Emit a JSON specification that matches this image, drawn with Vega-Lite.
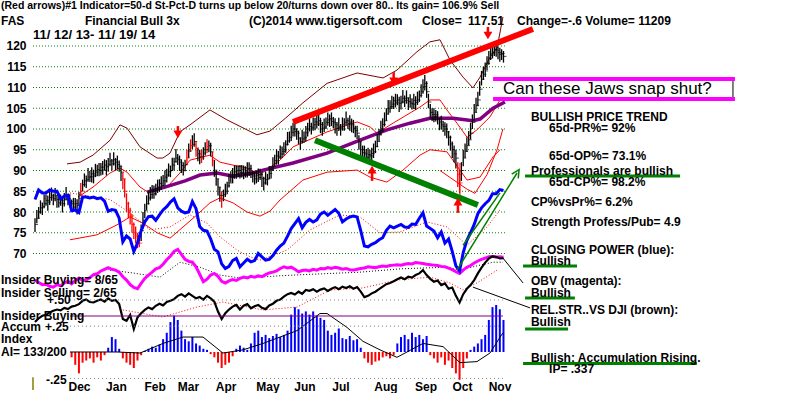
{
"$schema":"https://vega.github.io/schema/vega-lite/v6.json",
"width":767,"height":393,
"autosize":{"type":"none"},
"padding":{"left":33,"top":0,"right":0,"bottom":0},
"background":"white",
"config":{"view":{"stroke":null},"font":"Liberation Sans"},
"resolve":{"scale":{"y":"independent","color":"independent","strokeWidth":"independent","strokeDash":"independent","shape":"independent"}},
"datasets":{
"grid":[{"v":70},{"v":75},{"v":80},{"v":85},{"v":90},{"v":95},{"v":100},{"v":105},{"v":110},{"v":115},{"v":120}],
"px":[
{"i":0,"c":77,"h":78.5,"l":75.2},{"i":1,"c":78.5,"h":80.5,"l":77.3},{"i":2,"c":80,"h":81.2,"l":78.4},{"i":3,"c":81,"h":82.8,"l":79.6},{"i":4,"c":81.3,"h":82.3,"l":79.3},{"i":5,"c":82,"h":84.2,"l":80.9},{"i":6,"c":82.8,"h":84.2,"l":81.5},{"i":7,"c":82.4,"h":84,"l":80.3},{"i":8,"c":83.5,"h":85,"l":81.7},{"i":9,"c":83.9,"h":85.9,"l":82.7},
{"i":10,"c":83.2,"h":84.4,"l":81.6},{"i":11,"c":84,"h":85.8,"l":82.6},{"i":12,"c":83,"h":84,"l":81},{"i":13,"c":82.2,"h":84.4,"l":81.1},{"i":14,"c":82.8,"h":84.2,"l":81.5},{"i":15,"c":82,"h":83.6,"l":79.9},{"i":16,"c":83.1,"h":84.6,"l":81.3},{"i":17,"c":84,"h":86,"l":82.8},{"i":18,"c":83.2,"h":84.4,"l":81.6},{"i":19,"c":82.5,"h":84.3,"l":81.1},
{"i":20,"c":82,"h":83,"l":80},{"i":21,"c":81.2,"h":83.4,"l":80.1},{"i":22,"c":82,"h":83.4,"l":80.7},{"i":23,"c":81.5,"h":83.1,"l":79.4},{"i":24,"c":83.3,"h":84.8,"l":81.5},{"i":25,"c":85,"h":87,"l":83.8},{"i":26,"c":86.6,"h":87.8,"l":85},{"i":27,"c":87.5,"h":89.3,"l":86.1},{"i":28,"c":87.8,"h":88.8,"l":85.8},{"i":29,"c":88.4,"h":90.6,"l":87.3},
{"i":30,"c":88.5,"h":89.9,"l":87.2},{"i":31,"c":89.2,"h":90.8,"l":87.1},{"i":32,"c":88.7,"h":90.2,"l":86.9},{"i":33,"c":89.6,"h":91.6,"l":88.4},{"i":34,"c":90.2,"h":91.4,"l":88.6},{"i":35,"c":90,"h":91.8,"l":88.6},{"i":36,"c":90.8,"h":91.8,"l":88.8},{"i":37,"c":90.1,"h":92.3,"l":89},{"i":38,"c":91.3,"h":92.7,"l":90},{"i":39,"c":90.9,"h":92.5,"l":88.8},
{"i":40,"c":91.5,"h":93,"l":89.7},{"i":41,"c":92.3,"h":94.3,"l":91.1},{"i":42,"c":91.6,"h":92.8,"l":90},{"i":43,"c":92.6,"h":94.4,"l":91.2},{"i":44,"c":92,"h":93,"l":90},{"i":45,"c":91.4,"h":93.6,"l":90.3},{"i":46,"c":91,"h":92.4,"l":89.7},{"i":47,"c":89.6,"h":91.2,"l":87.5},{"i":48,"c":88,"h":89.5,"l":85.5},{"i":49,"c":85,"h":88,"l":83.5},
{"i":50,"c":82,"h":84.5,"l":80},{"i":51,"c":80.4,"h":82.5,"l":78.5},{"i":52,"c":79,"h":81,"l":77},{"i":53,"c":77,"h":79.5,"l":75},{"i":54,"c":75,"h":77.5,"l":73.5},{"i":55,"c":74.2,"h":76.5,"l":72.5},{"i":56,"c":73,"h":75,"l":71.3},{"i":57,"c":72.5,"h":74.5,"l":71.5},{"i":58,"c":75.5,"h":77,"l":73},{"i":59,"c":78,"h":80,"l":76},
{"i":60,"c":80.3,"h":82,"l":78.5},{"i":61,"c":82,"h":84,"l":80.5},{"i":62,"c":83.4,"h":85,"l":81.8},{"i":63,"c":84.2,"h":86,"l":82.8},{"i":64,"c":85,"h":86.5,"l":83.2},{"i":65,"c":84.4,"h":86.4,"l":83.2},{"i":66,"c":85.6,"h":86.8,"l":84},{"i":67,"c":86,"h":87.8,"l":84.6},{"i":68,"c":86.9,"h":87.9,"l":84.9},{"i":69,"c":86.4,"h":88.6,"l":85.3},
{"i":70,"c":87.5,"h":88.9,"l":86.2},{"i":71,"c":88.4,"h":90,"l":86.3},{"i":72,"c":88.9,"h":90.4,"l":87.1},{"i":73,"c":89.7,"h":91.7,"l":88.5},{"i":74,"c":90,"h":91.2,"l":88.4},{"i":75,"c":91.3,"h":93.1,"l":89.9},{"i":76,"c":92.1,"h":93.1,"l":90.1},{"i":77,"c":93,"h":95.2,"l":91.9},{"i":78,"c":92.6,"h":94,"l":91.3},{"i":79,"c":92,"h":93.6,"l":89.9},
{"i":80,"c":91.2,"h":92.7,"l":89.4},{"i":81,"c":90,"h":92,"l":88.8},{"i":82,"c":91.4,"h":92.6,"l":89.8},{"i":83,"c":93,"h":95,"l":91.5},{"i":84,"c":94.7,"h":96.5,"l":93},{"i":85,"c":96,"h":97.5,"l":94.5},{"i":86,"c":96.3,"h":98.5,"l":95.2},{"i":87,"c":97,"h":99,"l":95.7},{"i":88,"c":95.4,"h":97,"l":93.3},{"i":89,"c":94,"h":95.5,"l":92.2},
{"i":90,"c":93.3,"h":95,"l":91.5},{"i":91,"c":93,"h":95,"l":91.8},{"i":92,"c":94.2,"h":95.6,"l":92.6},{"i":93,"c":95,"h":96.8,"l":93.6},{"i":94,"c":95.8,"h":97.5,"l":94.2},{"i":95,"c":96,"h":97.2,"l":94.4},{"i":96,"c":94.5,"h":96.7,"l":93.4},{"i":97,"c":92.5,"h":94.5,"l":91},{"i":98,"c":90.1,"h":92.5,"l":88.5},{"i":99,"c":88,"h":90,"l":86.3},
{"i":100,"c":86,"h":88,"l":84},{"i":101,"c":84,"h":86,"l":82.5},{"i":102,"c":83,"h":85,"l":81},{"i":103,"c":84.2,"h":85.4,"l":82.6},{"i":104,"c":85,"h":86.8,"l":83.6},{"i":105,"c":86.3,"h":87.3,"l":84.3},{"i":106,"c":87,"h":89.2,"l":85.9},{"i":107,"c":88.4,"h":89.8,"l":87.1},{"i":108,"c":89,"h":90.6,"l":86.9},{"i":109,"c":89.7,"h":91.2,"l":88},
{"i":110,"c":89.2,"h":91.2,"l":88},{"i":111,"c":90,"h":91.2,"l":88.4},{"i":112,"c":89.5,"h":91.3,"l":88.1},{"i":113,"c":90.3,"h":91.3,"l":88.3},{"i":114,"c":89,"h":91.2,"l":87.9},{"i":115,"c":89.6,"h":91,"l":88.3},{"i":116,"c":90.4,"h":92,"l":88.3},{"i":117,"c":90.5,"h":92,"l":88.7},{"i":118,"c":89.4,"h":91.4,"l":88.2},{"i":119,"c":88.7,"h":89.9,"l":87.1},
{"i":120,"c":88,"h":89.8,"l":86.6},{"i":121,"c":88.9,"h":89.9,"l":86.9},{"i":122,"c":88.3,"h":90.5,"l":87.2},{"i":123,"c":89,"h":90.4,"l":87.7},{"i":124,"c":88.1,"h":89.7,"l":86},{"i":125,"c":87,"h":88.5,"l":85.2},{"i":126,"c":87.8,"h":89.8,"l":86.6},{"i":127,"c":88,"h":89.2,"l":86.4},{"i":128,"c":89.3,"h":91.1,"l":87.9},{"i":129,"c":90.1,"h":91.1,"l":88.1},
{"i":130,"c":91,"h":93.2,"l":89.9},{"i":131,"c":92.4,"h":93.8,"l":91.1},{"i":132,"c":93.5,"h":95.1,"l":91.4},{"i":133,"c":93.2,"h":94.7,"l":91.4},{"i":134,"c":94,"h":96,"l":92.8},{"i":135,"c":94.6,"h":95.8,"l":93},{"i":136,"c":95,"h":96.8,"l":93.6},{"i":137,"c":96.3,"h":97.3,"l":94.3},{"i":138,"c":97.1,"h":99.3,"l":96},{"i":139,"c":98,"h":99.4,"l":96.7},
{"i":140,"c":99.2,"h":100.8,"l":97.1},{"i":141,"c":100,"h":101.5,"l":98.2},{"i":142,"c":99.4,"h":101.4,"l":98.2},{"i":143,"c":99,"h":100.2,"l":97.4},{"i":144,"c":97.8,"h":99.6,"l":96.4},{"i":145,"c":97,"h":98,"l":95},{"i":146,"c":97.6,"h":99.8,"l":96.5},{"i":147,"c":98,"h":99.4,"l":96.7},{"i":148,"c":99.1,"h":100.7,"l":97},{"i":149,"c":100,"h":101.5,"l":98.2},
{"i":150,"c":100.6,"h":102.6,"l":99.4},{"i":151,"c":100.3,"h":101.5,"l":98.7},{"i":152,"c":101,"h":102.8,"l":99.6},{"i":153,"c":101.7,"h":102.7,"l":99.7},{"i":154,"c":101.2,"h":103.4,"l":100.1},{"i":155,"c":102,"h":103.4,"l":100.7},{"i":156,"c":101.1,"h":102.7,"l":99},{"i":157,"c":100.2,"h":101.7,"l":98.4},{"i":158,"c":100.5,"h":102.5,"l":99.3},{"i":159,"c":101.6,"h":102.8,"l":100},
{"i":160,"c":102.2,"h":104,"l":100.8},{"i":161,"c":102.5,"h":103.5,"l":100.5},{"i":162,"c":101.8,"h":104,"l":100.7},{"i":163,"c":101.5,"h":102.9,"l":100.2},{"i":164,"c":101,"h":102.6,"l":98.9},{"i":165,"c":100.2,"h":101.7,"l":98.4},{"i":166,"c":100.7,"h":102.7,"l":99.5},{"i":167,"c":100,"h":101.2,"l":98.4},{"i":168,"c":101,"h":102.8,"l":99.6},{"i":169,"c":101.6,"h":102.6,"l":99.6},
{"i":170,"c":102,"h":104.2,"l":100.9},{"i":171,"c":101.3,"h":102.7,"l":100},{"i":172,"c":101.7,"h":103.3,"l":99.6},{"i":173,"c":101,"h":102.5,"l":99.2},{"i":174,"c":100.2,"h":102.2,"l":99},{"i":175,"c":99.6,"h":100.8,"l":98},{"i":176,"c":99,"h":100.8,"l":97.6},{"i":177,"c":97,"h":98.5,"l":95},{"i":178,"c":95,"h":97,"l":93.5},{"i":179,"c":94.3,"h":96,"l":92.5},
{"i":180,"c":94,"h":96,"l":92.6},{"i":181,"c":93.2,"h":95.2,"l":91.8},{"i":182,"c":93.8,"h":95.5,"l":92},{"i":183,"c":93.5,"h":95,"l":92},{"i":184,"c":94.1,"h":95.5,"l":92.5},{"i":185,"c":94.5,"h":96.5,"l":93},{"i":186,"c":95.8,"h":97.2,"l":94.2},{"i":187,"c":97,"h":98.8,"l":95.6},{"i":188,"c":98.6,"h":100,"l":97},{"i":189,"c":100,"h":102,"l":98.5},
{"i":190,"c":101.1,"h":102.6,"l":99.3},{"i":191,"c":102,"h":104,"l":100.6},{"i":192,"c":103.6,"h":105,"l":102},{"i":193,"c":105,"h":107,"l":103.5},{"i":194,"c":105.4,"h":106.9,"l":103.9},{"i":195,"c":106,"h":108,"l":104.8},{"i":196,"c":106.8,"h":107.8,"l":104.8},{"i":197,"c":106.3,"h":108.5,"l":105.2},{"i":198,"c":107,"h":108.4,"l":105.7},{"i":199,"c":106.2,"h":107.8,"l":104.1},
{"i":200,"c":106.5,"h":108,"l":104.7},{"i":201,"c":107.4,"h":109.4,"l":106.2},{"i":202,"c":106.9,"h":108.1,"l":105.3},{"i":203,"c":107.5,"h":109.3,"l":106.1},{"i":204,"c":106.6,"h":107.6,"l":104.6},{"i":205,"c":106.2,"h":108.4,"l":105.1},{"i":206,"c":106,"h":107.4,"l":104.7},{"i":207,"c":106.9,"h":108.5,"l":104.8},{"i":208,"c":106.4,"h":107.9,"l":104.6},{"i":209,"c":107,"h":109,"l":105.8},
{"i":210,"c":108.1,"h":109.3,"l":106.5},{"i":211,"c":109,"h":110.8,"l":107.6},{"i":212,"c":110.2,"h":112,"l":108.5},{"i":213,"c":111,"h":113,"l":109.3},{"i":214,"c":109,"h":111.5,"l":107.5},{"i":215,"c":106.5,"h":108.5,"l":105},{"i":216,"c":104,"h":106,"l":102.5},{"i":217,"c":103.5,"h":105,"l":101.9},{"i":218,"c":103,"h":105,"l":101.6},{"i":219,"c":103.4,"h":104.6,"l":101.8},
{"i":220,"c":102.5,"h":104.3,"l":101.1},{"i":221,"c":101.7,"h":102.7,"l":99.7},{"i":222,"c":101,"h":103.2,"l":99.9},{"i":223,"c":100.6,"h":102,"l":99.3},{"i":224,"c":100,"h":101.6,"l":98.4},{"i":225,"c":99.3,"h":101.3,"l":97.8},{"i":226,"c":98,"h":99.5,"l":96},{"i":227,"c":96.4,"h":98.4,"l":94.8},{"i":228,"c":95,"h":97,"l":93},{"i":229,"c":94,"h":96,"l":92},
{"i":230,"c":93,"h":95,"l":90.5},{"i":231,"c":89,"h":92,"l":86},{"i":232,"c":87,"h":90,"l":84.5},{"i":233,"c":90,"h":92,"l":87.5},{"i":234,"c":93,"h":95,"l":91},{"i":235,"c":94.6,"h":96.5,"l":93},{"i":236,"c":96,"h":98,"l":94.5},{"i":237,"c":97.4,"h":99.5,"l":96},{"i":238,"c":99,"h":101.5,"l":97.5},{"i":239,"c":101.6,"h":103.5,"l":100},
{"i":240,"c":104,"h":106,"l":102},{"i":241,"c":105.7,"h":107.5,"l":104},{"i":242,"c":107,"h":109,"l":105.5},{"i":243,"c":109.6,"h":111.5,"l":108},{"i":244,"c":112,"h":114,"l":110.5},{"i":245,"c":113.2,"h":115,"l":111.8},{"i":246,"c":114,"h":116,"l":112.5},{"i":247,"c":115.8,"h":117.5,"l":114.2},{"i":248,"c":117,"h":118.8,"l":115.5},{"i":249,"c":118.1,"h":119.8,"l":116.6},
{"i":250,"c":118.5,"h":120,"l":117},{"i":251,"c":119.2,"h":120.4,"l":117.6},{"i":252,"c":119,"h":120.6,"l":117.4},{"i":253,"c":118.4,"h":119.8,"l":116.8},{"i":254,"c":118,"h":119.6,"l":116.2},{"i":255,"c":118.2,"h":119.2,"l":116.6},{"i":256,"c":117.5,"h":118.8,"l":116}
],
"ind":[
{"i":0,"cp":83,"ob":63.6,"rs":53.5},{"i":2,"cp":85.3,"ob":63,"rs":54.4},{"i":4,"cp":84.6,"ob":62.5,"rs":55},{"i":6,"cp":84.6,"ob":62.6,"rs":55.2},{"i":8,"cp":85.3,"ob":62.1,"rs":55.8},{"i":10,"cp":85,"ob":61.9,"rs":56.2},{"i":12,"cp":85,"ob":62.5,"rs":56.5},{"i":14,"cp":83.2,"ob":62.2,"rs":56.3},{"i":16,"cp":83.8,"ob":62.9,"rs":56.9},{"i":18,"cp":84,"ob":63.3,"rs":56.6},
{"i":20,"cp":80.3,"ob":62.7,"rs":57.2,"ai":-0.05},{"i":22,"cp":80.5,"ob":63.5,"rs":57.4,"ai":-0.12},{"i":24,"cp":79.9,"ob":64.1,"rs":57.8,"ai":-0.2},{"i":26,"cp":83.6,"ob":63.5,"rs":58.6,"ai":-0.1},{"i":28,"cp":83.6,"ob":63.6,"rs":58.9,"ai":-0.08},{"i":30,"cp":83.4,"ob":64.2,"rs":58.3,"ai":-0.06},{"i":32,"cp":83.6,"ob":64.9,"rs":58.2,"ai":-0.1},{"i":34,"cp":83.2,"ob":65.1,"rs":58.6,"ai":-0.05},{"i":36,"cp":83.4,"ob":65.8,"rs":58.9,"ai":-0.08},{"i":38,"cp":82.6,"ob":66.2,"rs":58.4,"ai":-0.03},
{"i":40,"cp":80.2,"ob":66.6,"rs":59.2,"ai":0.04},{"i":42,"cp":80.6,"ob":66.2,"rs":58.6,"ai":0.14},{"i":44,"cp":80.4,"ob":66,"rs":58.8,"ai":0.12},{"i":46,"cp":78.5,"ob":65.5,"rs":57.8,"ai":0.03},{"i":48,"cp":72.8,"ob":64.4,"rs":54.2,"ai":-0.06},{"i":50,"cp":74.2,"ob":63.6,"rs":53.8,"ai":-0.1},{"i":52,"cp":73.5,"ob":62.5,"rs":55.2,"ai":-0.12},{"i":54,"cp":70.5,"ob":61.8,"rs":51.8,"ai":-0.15},{"i":56,"cp":72.5,"ob":61.5,"rs":54.6,"ai":-0.08},{"i":58,"cp":75.5,"ob":62.8,"rs":55.6,"ai":-0.03},
{"i":60,"cp":77.6,"ob":64,"rs":56.4,"ai":0.01},{"i":62,"cp":78.9,"ob":64.8,"rs":57,"ai":0.03},{"i":64,"cp":79,"ob":65.5,"rs":56.6,"ai":0.05},{"i":66,"cp":78,"ob":66.3,"rs":57.4,"ai":0.04},{"i":68,"cp":79.3,"ob":66.6,"rs":57.9,"ai":0.07},{"i":70,"cp":80.5,"ob":67.4,"rs":57.5,"ai":0.12},{"i":72,"cp":81.3,"ob":68.5,"rs":58.3,"ai":0.18},{"i":74,"cp":82.4,"ob":69.4,"rs":58.6,"ai":0.28},{"i":76,"cp":83.2,"ob":70.5,"rs":59,"ai":0.34},{"i":78,"cp":81,"ob":71,"rs":59.8,"ai":0.3},
{"i":80,"cp":80.2,"ob":69.8,"rs":60.2,"ai":0.2},{"i":82,"cp":79.8,"ob":68.6,"rs":59.6,"ai":0.12},{"i":84,"cp":80,"ob":68.1,"rs":60.4,"ai":0.1},{"i":86,"cp":82.5,"ob":67.9,"rs":59.8,"ai":0.14},{"i":88,"cp":80.8,"ob":66.8,"rs":59.2,"ai":0.08},{"i":90,"cp":76.5,"ob":65,"rs":59.5,"ai":0.06},{"i":92,"cp":75.6,"ob":63.2,"rs":58.9,"ai":0.03},{"i":94,"cp":75.4,"ob":63.8,"rs":59.8,"ai":0.02},{"i":96,"cp":73.5,"ob":64.8,"rs":59.2,"ai":-0.02},{"i":98,"cp":71,"ob":65.2,"rs":58.4,"ai":-0.05},
{"i":100,"cp":70.4,"ob":64.5,"rs":56,"ai":-0.1},{"i":102,"cp":67.5,"ob":63.3,"rs":54.2,"ai":-0.15},{"i":104,"cp":66.4,"ob":62.9,"rs":55.6,"ai":-0.12},{"i":106,"cp":66.9,"ob":63.4,"rs":56.5,"ai":-0.1},{"i":108,"cp":68.3,"ob":63.7,"rs":57.2,"ai":-0.04},{"i":110,"cp":68.8,"ob":63.5,"rs":57.6,"ai":0.03},{"i":112,"cp":66.8,"ob":64,"rs":56.5,"ai":0.06},{"i":114,"cp":67.7,"ob":64.3,"rs":57.4,"ai":0.04},{"i":116,"cp":68.6,"ob":64.1,"rs":57.8,"ai":0.02},{"i":118,"cp":68,"ob":64.5,"rs":56.8,"ai":0.08},
{"i":120,"cp":68.3,"ob":64.3,"rs":57.3,"ai":0.18},{"i":122,"cp":70,"ob":64.6,"rs":57.6,"ai":0.2},{"i":124,"cp":69.2,"ob":64.4,"rs":56.9,"ai":0.14},{"i":126,"cp":68.4,"ob":64.9,"rs":56.6,"ai":0.16},{"i":128,"cp":68.6,"ob":65.3,"rs":57.5,"ai":0.13},{"i":130,"cp":69.5,"ob":65.5,"rs":57.9,"ai":0.15},{"i":132,"cp":70.8,"ob":65.8,"rs":58.6,"ai":0.17},{"i":134,"cp":71.8,"ob":66.4,"rs":58.9,"ai":0.14},{"i":136,"cp":72.5,"ob":66.8,"rs":59.6,"ai":0.16},{"i":138,"cp":74.2,"ob":66.5,"rs":60.2,"ai":0.2},
{"i":140,"cp":76,"ob":66.7,"rs":60.5,"ai":0.35},{"i":142,"cp":77.2,"ob":66.2,"rs":60.1,"ai":0.42},{"i":144,"cp":78.4,"ob":65.6,"rs":60.8,"ai":0.4},{"i":146,"cp":76.2,"ob":65.9,"rs":60.3,"ai":0.36},{"i":148,"cp":77.5,"ob":66,"rs":61.2,"ai":0.38},{"i":150,"cp":78.2,"ob":65.8,"rs":61,"ai":0.35},{"i":152,"cp":77.6,"ob":66.2,"rs":61.4,"ai":0.38},{"i":154,"cp":78.1,"ob":66,"rs":60.8,"ai":0.34},{"i":156,"cp":79.5,"ob":66.4,"rs":61.3,"ai":0.32},{"i":158,"cp":80,"ob":66.3,"rs":61.6,"ai":0.3},
{"i":160,"cp":79.2,"ob":66.6,"rs":61,"ai":0.2},{"i":162,"cp":79.9,"ob":66.4,"rs":61.5,"ai":0.16},{"i":164,"cp":80.6,"ob":66.7,"rs":61.9,"ai":0.18},{"i":166,"cp":79.7,"ob":66.5,"rs":61.4,"ai":0.22},{"i":168,"cp":77.6,"ob":66.2,"rs":62,"ai":0.13},{"i":170,"cp":78.3,"ob":66.4,"rs":61.7,"ai":0.12},{"i":172,"cp":78.8,"ob":66.1,"rs":62.1,"ai":0.15},{"i":174,"cp":79,"ob":66,"rs":61.5,"ai":0.11},{"i":176,"cp":78.8,"ob":66.2,"rs":61.9,"ai":0.12},{"i":178,"cp":75.5,"ob":66.4,"rs":60.8,"ai":0.04},
{"i":180,"cp":71.8,"ob":66.5,"rs":59.5,"ai":-0.06},{"i":182,"cp":71.6,"ob":66.8,"rs":59.8,"ai":-0.1},{"i":184,"cp":72.2,"ob":66.7,"rs":60.4,"ai":-0.12},{"i":186,"cp":72.6,"ob":66.6,"rs":60.8,"ai":-0.09},{"i":188,"cp":73.3,"ob":66.8,"rs":61.4,"ai":-0.08},{"i":190,"cp":73.8,"ob":67,"rs":62,"ai":-0.05},{"i":192,"cp":75.6,"ob":66.9,"rs":62.6,"ai":-0.04},{"i":194,"cp":76.6,"ob":67.1,"rs":62.9,"ai":-0.06},{"i":196,"cp":76.2,"ob":67.2,"rs":63.3,"ai":-0.03},{"i":198,"cp":76.6,"ob":67.3,"rs":63.8,"ai":0.08},
{"i":200,"cp":77,"ob":67.2,"rs":64.2,"ai":0.14},{"i":202,"cp":76.4,"ob":67.4,"rs":63.8,"ai":0.16},{"i":204,"cp":76.3,"ob":67.6,"rs":64.4,"ai":0.12},{"i":206,"cp":77.1,"ob":67.5,"rs":64.2,"ai":0.18},{"i":208,"cp":77,"ob":67.8,"rs":64.8,"ai":0.14},{"i":210,"cp":78.5,"ob":67.7,"rs":65.2,"ai":0.16},{"i":212,"cp":79.8,"ob":67.6,"rs":66,"ai":0.12},{"i":214,"cp":76.6,"ob":67.4,"rs":64.8,"ai":0.15},{"i":216,"cp":76,"ob":67.3,"rs":63.9,"ai":-0.03},{"i":218,"cp":75.4,"ob":67.2,"rs":63.2,"ai":-0.06},
{"i":220,"cp":73.8,"ob":67.1,"rs":63.5,"ai":-0.1},{"i":222,"cp":75.2,"ob":66.9,"rs":62.4,"ai":-0.05},{"i":224,"cp":72.5,"ob":66.8,"rs":62.8,"ai":-0.12},{"i":226,"cp":73.5,"ob":66.5,"rs":61.5,"ai":-0.08},{"i":228,"cp":70.5,"ob":66.1,"rs":61.8,"ai":-0.15},{"i":230,"cp":67,"ob":65.6,"rs":59.8,"ai":-0.2},{"i":232,"cp":65.8,"ob":65.2,"rs":58.2,"ai":-0.26},{"i":234,"cp":70.2,"ob":66,"rs":60.2,"ai":-0.15},{"i":236,"cp":73.2,"ob":66.7,"rs":61.5,"ai":-0.06},{"i":238,"cp":75,"ob":67.1,"rs":62.4,"ai":0.02},
{"i":240,"cp":77,"ob":67.7,"rs":63.6,"ai":0.05},{"i":242,"cp":79.6,"ob":68.2,"rs":65.2,"ai":0.08},{"i":244,"cp":81,"ob":68.6,"rs":66.6,"ai":0.12},{"i":246,"cp":82,"ob":68.9,"rs":67.8,"ai":0.16},{"i":248,"cp":82.8,"ob":69.2,"rs":68.8,"ai":0.3},{"i":250,"cp":84.4,"ob":69.3,"rs":69.3,"ai":0.42},{"i":252,"cp":84.4,"ob":69.1,"rs":69.2,"ai":0.44},{"i":254,"cp":85.4,"ob":69.2,"rs":68.8,"ai":0.4},{"i":256,"cp":85.2,"ob":69.1,"rs":68.9,"ai":0.3}
],
"bands":[
{"s":"up2","i":17.5,"v":91.6},{"s":"up2","i":24.6,"v":92},{"s":"up2","i":31.7,"v":93.7},{"s":"up2","i":41,"v":97.3},{"s":"up2","i":46.4,"v":101},{"s":"up2","i":50.3,"v":100.2},{"s":"up2","i":57.4,"v":95.7},{"s":"up2","i":66.7,"v":93},{"s":"up2","i":69.9,"v":93},{"s":"up2","i":73.8,"v":94.2},{"s":"up2","i":79.2,"v":99.3},{"s":"up2","i":84.7,"v":101},{"s":"up2","i":95.6,"v":104.6},{"s":"up2","i":104.9,"v":102.2},{"s":"up2","i":115.8,"v":99.8},{"s":"up2","i":121.3,"v":98.6},{"s":"up2","i":128.4,"v":99.5},{"s":"up2","i":136.6,"v":102.5},{"s":"up2","i":146.4,"v":106.3},{"s":"up2","i":159.6,"v":111},{"s":"up2","i":176,"v":113.5},{"s":"up2","i":190.2,"v":112.3},{"s":"up2","i":197.8,"v":114.2},{"s":"up2","i":208.7,"v":118.6},{"s":"up2","i":215.8,"v":121},{"s":"up2","i":221.3,"v":121.5},{"s":"up2","i":226.8,"v":116.6},{"s":"up2","i":233.9,"v":112.5},{"s":"up2","i":239.3,"v":109.9},{"s":"up2","i":243.2,"v":112.5},{"s":"up2","i":248.6,"v":117.3},{"s":"up2","i":252.5,"v":119.5},{"s":"up2","i":255.7,"v":127},
{"s":"up1","i":23.5,"v":83.6},{"s":"up1","i":31.7,"v":86},{"s":"up1","i":41,"v":89.4},{"s":"up1","i":46.4,"v":90.6},{"s":"up1","i":50.3,"v":89.6},{"s":"up1","i":57.4,"v":86},{"s":"up1","i":61.7,"v":84.8},{"s":"up1","i":72.1,"v":86},{"s":"up1","i":79.2,"v":89.4},{"s":"up1","i":84.7,"v":92.5},{"s":"up1","i":95.6,"v":93.7},{"s":"up1","i":101.1,"v":92},{"s":"up1","i":108.2,"v":91.3},{"s":"up1","i":115.8,"v":90.6},{"s":"up1","i":122.9,"v":89},{"s":"up1","i":133.9,"v":92.5},{"s":"up1","i":141,"v":95.7},{"s":"up1","i":151.9,"v":97.8},{"s":"up1","i":159.6,"v":99.3},{"s":"up1","i":176,"v":101.7},{"s":"up1","i":183.1,"v":100.5},{"s":"up1","i":186.9,"v":99},{"s":"up1","i":195.6,"v":101.4},{"s":"up1","i":210.4,"v":105.3},{"s":"up1","i":215.8,"v":107},{"s":"up1","i":221.3,"v":107},{"s":"up1","i":225.1,"v":104.6},{"s":"up1","i":230.6,"v":101.4},{"s":"up1","i":236.1,"v":98},{"s":"up1","i":241.5,"v":99.8},{"s":"up1","i":248.6,"v":102.9},{"s":"up1","i":254.1,"v":107},
{"s":"lo1","i":19.1,"v":73.3},{"s":"lo1","i":33.9,"v":74.5},{"s":"lo1","i":44.8,"v":76.9},{"s":"lo1","i":51.9,"v":78.8},{"s":"lo1","i":59,"v":77.3},{"s":"lo1","i":66.7,"v":75},{"s":"lo1","i":73.8,"v":73.7},{"s":"lo1","i":80.9,"v":76.4},{"s":"lo1","i":88.5,"v":79.3},{"s":"lo1","i":95.6,"v":82.2},{"s":"lo1","i":101.1,"v":83.4},{"s":"lo1","i":108.2,"v":82.2},{"s":"lo1","i":115.8,"v":80},{"s":"lo1","i":122.9,"v":79},{"s":"lo1","i":128.4,"v":80.2},{"s":"lo1","i":133.9,"v":82.9},{"s":"lo1","i":146.4,"v":87.7},{"s":"lo1","i":159.6,"v":89.6},{"s":"lo1","i":176,"v":90.1},{"s":"lo1","i":183.1,"v":88.4},{"s":"lo1","i":192.3,"v":87.2},{"s":"lo1","i":201.1,"v":90.1},{"s":"lo1","i":210.4,"v":93.7},{"s":"lo1","i":215.8,"v":95},{"s":"lo1","i":225.1,"v":94.5},{"s":"lo1","i":232.2,"v":90.1},{"s":"lo1","i":236.1,"v":87.7},{"s":"lo1","i":243.2,"v":88.4},{"s":"lo1","i":250.3,"v":93.3},{"s":"lo1","i":254.1,"v":95},
{"s":"lo2","i":221.3,"v":90},{"s":"lo2","i":229.5,"v":87.5},{"s":"lo2","i":236.1,"v":85.5},{"s":"lo2","i":240.4,"v":84.5},{"s":"lo2","i":247,"v":89},{"s":"lo2","i":252.5,"v":95},{"s":"lo2","i":255.7,"v":100},
{"s":"ma","i":61.2,"v":84.8},{"s":"ma","i":71,"v":86},{"s":"ma","i":82,"v":87.5},{"s":"ma","i":90.2,"v":88.9},{"s":"ma","i":99.5,"v":89.4},{"s":"ma","i":108.2,"v":88.6},{"s":"ma","i":119.1,"v":89.4},{"s":"ma","i":124.6,"v":90.1},{"s":"ma","i":141,"v":91.8},{"s":"ma","i":159.6,"v":94.2},{"s":"ma","i":177.6,"v":97.3},{"s":"ma","i":192.3,"v":99.8},{"s":"ma","i":204.9,"v":101.4},{"s":"ma","i":215.8,"v":102.6},{"s":"ma","i":228.4,"v":102.6},{"s":"ma","i":239.3,"v":102},{"s":"ma","i":243.2,"v":102.4},{"s":"ma","i":250.3,"v":105},{"s":"ma","i":256.8,"v":106.5}
],
"dots":[
{"s":"cpma","i":19.1,"v":84.6},{"s":"cpma","i":41,"v":83},{"s":"cpma","i":51.9,"v":79.8},{"s":"cpma","i":62.8,"v":75.7},{"s":"cpma","i":73.8,"v":76.4},{"s":"cpma","i":84.7,"v":79.3},{"s":"cpma","i":94,"v":77.3},{"s":"cpma","i":101.1,"v":74},{"s":"cpma","i":110.4,"v":70.8},{"s":"cpma","i":117.5,"v":69.2},{"s":"cpma","i":122.9,"v":68.4},{"s":"cpma","i":137.7,"v":70.8},{"s":"cpma","i":150.3,"v":75.7},{"s":"cpma","i":166.7,"v":79.3},{"s":"cpma","i":177.6,"v":78.8},{"s":"cpma","i":188.5,"v":75},{"s":"cpma","i":199.5,"v":75.2},{"s":"cpma","i":214.2,"v":77.6},{"s":"cpma","i":225.1,"v":76.4},{"s":"cpma","i":236.1,"v":72},{"s":"cpma","i":247,"v":76.4},{"s":"cpma","i":254.1,"v":80.5},
{"s":"rsma","i":48,"v":56.4},{"s":"rsma","i":69.9,"v":54.7},{"s":"rsma","i":88.5,"v":57.1},{"s":"rsma","i":102.7,"v":58.3},{"s":"rsma","i":124.6,"v":56.4},{"s":"rsma","i":143.2,"v":57.1},{"s":"rsma","i":161.2,"v":61.2},{"s":"rsma","i":179.2,"v":61.7},{"s":"rsma","i":197.8,"v":63.6},{"s":"rsma","i":215.8,"v":64.3},{"s":"rsma","i":226.8,"v":62.9},{"s":"rsma","i":233.9,"v":61.2},{"s":"rsma","i":241.5,"v":62.9},{"s":"rsma","i":252.5,"v":66}
],
"obma":[
{"i":41,"v":66},{"i":53.6,"v":65.3},{"i":68.3,"v":64.3},{"i":79.2,"v":67.9},{"i":90.2,"v":66.7},{"i":101.1,"v":64.8},{"i":112,"v":64.1},{"i":121.3,"v":64.3},{"i":141,"v":64.8},{"i":177.6,"v":65.5},{"i":199.5,"v":66.3},{"i":225.1,"v":66.7},{"i":232.2,"v":66},{"i":243.2,"v":67.2},{"i":250.3,"v":67.9},{"i":255.7,"v":67.9}
],
"aima":[
{"i":19.1,"a":0},{"i":44.8,"a":0},{"i":57.4,"a":-0.01},{"i":69.9,"a":0.08},{"i":80.9,"a":0.14},{"i":91.8,"a":0.14},{"i":102.7,"a":-0.01},{"i":113.7,"a":0.02},{"i":124.6,"a":0.08},{"i":143.2,"a":0.2},{"i":155.7,"a":0.36},{"i":159.6,"a":0.36},{"i":170.5,"a":0.23},{"i":179.2,"a":0.1},{"i":188.5,"a":0.02},{"i":197.8,"a":-0.05},{"i":212,"a":0.08},{"i":223,"a":0.05},{"i":232.2,"a":-0.1},{"i":241.5,"a":-0.09},{"i":248.6,"a":-0.01},{"i":255.7,"a":0.18}
],
"seg":[
{"k":"purp","i":19.1,"v":54.94,"i2":255.7,"v2":54.94},
{"k":"dot","i":19.1,"v":58.8,"i2":255.7,"v2":58.8},
{"k":"dot","i":19.1,"v":52.5,"i2":255.7,"v2":52.5},
{"k":"dot","i":19.1,"v":39.9,"i2":255.7,"v2":39.9},
{"k":"olive","i":-1.1,"v":40.2,"i2":-1.1,"v2":37.1},
{"k":"rthick","i":141,"v":101.7,"i2":272.1,"v2":124.1},
{"k":"gthick","i":153,"v":97.3,"i2":242,"v2":81.7},
{"k":"gthin","i":230.6,"v":66,"i2":263.4,"v2":89.4},
{"k":"gthin","i":233.9,"v":72,"i2":254.1,"v2":84.6},
{"k":"ptr","i":255.7,"v":68.9,"i2":266.7,"v2":62.9},
{"k":"ptr","i":239.3,"v":61.9,"i2":270.5,"v2":56.9},
{"k":"rarrow","i":78.1,"v":100.7,"i2":78.1,"v2":99.3},
{"k":"rarrow","i":196,"v":113.7,"i2":196,"v2":112.05},
{"k":"rarrow","i":247.5,"v":124.6,"i2":247.5,"v2":123.1},
{"k":"rarrow","i":184.2,"v":89.6,"i2":184.2,"v2":87.5},
{"k":"rarrow","i":231.1,"v":81.9,"i2":231.1,"v2":79.8},
{"k":"rthin","i":232.2,"v":91.8,"i2":232.2,"v2":82.9},
{"k":"ul","i":267.8,"v":88.67,"i2":352.5,"v2":88.67},
{"k":"ul","i":266.7,"v":67.0,"i2":296.2,"v2":67.0},
{"k":"ul","i":267.8,"v":59.28,"i2":295,"v2":59.28},
{"k":"ul","i":267.8,"v":51.81,"i2":291.3,"v2":51.81},
{"k":"ul","i":266.7,"v":43.49,"i2":361.7,"v2":43.49},
{"k":"boxm","i":250.3,"v":112.05,"i2":382.5,"v2":112.05},
{"k":"boxm","i":250.3,"v":107.23,"i2":382.5,"v2":107.23},
{"k":"boxk","i":381.4,"v":111.6,"i2":381.4,"v2":107.5}
],
"headsdn":[{"i":78.1,"v":98.8},{"i":196,"v":111.6},{"i":247.5,"v":122.65}],
"headsup":[{"i":184.2,"v":90.1},{"i":231.1,"v":82.4}],
"title":[{"i":-18.6,"v":129.64,"t":"(Red arrows)#1 Indicator=50-d St-Pct-D turns up below 20/turns down over 80.. Its gain= 106.9% Sell"}],
"date":[{"i":-1.1,"v":122.65,"t":"11/ 12/ 13- 11/ 19/ 14"}],
"txt":[
{"i":-18.6,"v":126.0,"t":"FAS"},
{"i":27.3,"v":126.0,"t":"Financial Bull 3x"},
{"i":116.9,"v":126.0,"t":"(C)2014 www.tigersoft.com"},
{"i":211.5,"v":126.0,"t":"Close="},
{"i":236.6,"v":126.0,"t":"117.51"},
{"i":263.4,"v":126.0,"t":"Change=-.6 Volume= 11209"},
{"i":271,"v":102.89,"t":"BULLISH PRICE TREND"},
{"i":280.9,"v":100.36,"t":"65d-PR%= 92%"},
{"i":280.9,"v":93.49,"t":"65d-OP%= 73.1%"},
{"i":271,"v":89.88,"t":"Professionals are bullish"},
{"i":280.9,"v":87.11,"t":"65d-CP%= 98.2%"},
{"i":271,"v":82.29,"t":"CP%vsPr%=  6.2%"},
{"i":271,"v":77.59,"t":"Strength Profess/Pub= 4.9"},
{"i":271,"v":70.84,"t":"CLOSING POWER (blue):"},
{"i":271,"v":68.31,"t":"Bullish"},
{"i":271,"v":63.37,"t":"OBV (magenta):"},
{"i":271,"v":60.6,"t":"Bullish"},
{"i":271,"v":56.39,"t":"REL.STR..VS DJI (brown):"},
{"i":271,"v":53.49,"t":"Bullish"},
{"i":271,"v":44.82,"t":"Bullish: Accumulation Rising."},
{"i":280.9,"v":42.17,"t":"IP=  .337"},
{"i":-18.6,"v":63.61,"t":"Insider Buying= 8/65"},
{"i":-18.6,"v":60.48,"t":"Insider Selling= 2/65"},
{"i":6.6,"v":58.8,"t":"+.50"},
{"i":-18.6,"v":54.94,"t":"Insider Buying"},
{"i":-18.6,"v":52.29,"t":"Accum"},
{"i":5.5,"v":52.29,"t":"+.25"},
{"i":-18.6,"v":49.4,"t":"Index"},
{"i":-18.6,"v":46.27,"t":"AI= 133/200"},
{"i":6,"v":39.5,"t":"-.25"}
],
"months":[
{"i":24.3,"t":"Dec"},{"i":44.5,"t":"Jan"},{"i":65.6,"t":"Feb"},{"i":83.9,"t":"Mar"},{"i":104.4,"t":"Apr"},{"i":127.3,"t":"May"},{"i":147.5,"t":"Jun"},{"i":167.2,"t":"Jul"},{"i":191.8,"t":"Aug"},{"i":213.7,"t":"Sep"},{"i":233.6,"t":"Oct"},{"i":254.1,"t":"Nov"}
],
"box":[{"i":250.3,"i2":382.5,"v":111.8,"v2":107.5}],
"jaws":[{"i":255.7,"v":109.6,"t":"Can these Jaws snap shut?"}],
"ghead":[{"i":263.4,"v":89.4}]
},
"layer":[
{"data":{"name":"grid"},"mark":{"type":"rule","color":"#008000","strokeDash":[1,2],"strokeWidth":1},
 "encoding":{"x":{"datum":-1.1,"type":"quantitative","scale":{"domain":[-1.093,418.03],"nice":false,"zero":false},"axis":null},"x2":{"datum":256.8},
 "y":{"field":"v","type":"quantitative","scale":{"domain":[36.386,131.084],"nice":false,"zero":false},
  "axis":{"values":[70,75,80,85,90,95,100,105,110,115,120],"format":"d","domain":false,"ticks":false,"grid":false,"labelPadding":7,"labelFont":"Liberation Sans","labelFontSize":12,"labelFontWeight":"bold","labelColor":"#000000","title":null}}}},
{"data":{"name":"ind"},"transform":[{"filter":"isValid(datum.ai)"}],"mark":{"type":"rule","strokeWidth":2},
 "encoding":{"x":{"field":"i","type":"quantitative","scale":{"domain":[-1.093,418.03],"nice":false,"zero":false},"axis":null},
 "y":{"field":"ai","type":"quantitative","scale":{"domain":[-0.384,3.296],"nice":false,"zero":false},"axis":null},"y2":{"datum":0},
 "color":{"condition":{"test":"datum.ai<0","value":"#ff0000"},"value":"#0000ff"}}},
{"data":{"name":"aima"},"mark":{"type":"line","color":"#000000","strokeWidth":1},
 "encoding":{"x":{"field":"i","type":"quantitative","scale":{"domain":[-1.093,418.03],"nice":false,"zero":false},"axis":null},
 "y":{"field":"a","type":"quantitative","scale":{"domain":[-0.384,3.296],"nice":false,"zero":false},"axis":null}}},
{"data":{"name":"bands"},"transform":[{"filter":"datum.s=='up2'"}],"mark":{"type":"line","color":"#800000","strokeWidth":1},
 "encoding":{"x":{"field":"i","type":"quantitative","scale":{"domain":[-1.093,418.03],"nice":false,"zero":false},"axis":null},
 "y":{"field":"v","type":"quantitative","scale":{"domain":[36.386,131.084],"nice":false,"zero":false},"axis":null}}},
{"data":{"name":"bands"},"transform":[{"filter":"datum.s=='up1'||datum.s=='lo1'||datum.s=='lo2'"}],"mark":{"type":"line","color":"#ff0000","strokeWidth":1},
 "encoding":{"x":{"field":"i","type":"quantitative","scale":{"domain":[-1.093,418.03],"nice":false,"zero":false},"axis":null},
 "y":{"field":"v","type":"quantitative","scale":{"domain":[36.386,131.084],"nice":false,"zero":false},"axis":null},"detail":{"field":"s"}}},
{"data":{"name":"dots"},"mark":{"type":"line","strokeWidth":1,"strokeDash":[1,2],"color":"#ff0000"},
 "encoding":{"x":{"field":"i","type":"quantitative","scale":{"domain":[-1.093,418.03],"nice":false,"zero":false},"axis":null},
 "y":{"field":"v","type":"quantitative","scale":{"domain":[36.386,131.084],"nice":false,"zero":false},"axis":null},"detail":{"field":"s"}}},
{"data":{"name":"obma"},"mark":{"type":"line","strokeWidth":1,"strokeDash":[1,2],"color":"#000000"},
 "encoding":{"x":{"field":"i","type":"quantitative","scale":{"domain":[-1.093,418.03],"nice":false,"zero":false},"axis":null},
 "y":{"field":"v","type":"quantitative","scale":{"domain":[36.386,131.084],"nice":false,"zero":false},"axis":null}}},
{"data":{"name":"bands"},"transform":[{"filter":"datum.s=='ma'"}],"mark":{"type":"line","color":"#800080","strokeWidth":3.5},
 "encoding":{"x":{"field":"i","type":"quantitative","scale":{"domain":[-1.093,418.03],"nice":false,"zero":false},"axis":null},
 "y":{"field":"v","type":"quantitative","scale":{"domain":[36.386,131.084],"nice":false,"zero":false},"axis":null}}},
{"data":{"name":"px"},"mark":{"type":"rule","strokeWidth":1.3},
 "encoding":{"x":{"field":"i","type":"quantitative","scale":{"domain":[-1.093,418.03],"nice":false,"zero":false},"axis":null},
 "y":{"field":"l","type":"quantitative","scale":{"domain":[36.386,131.084],"nice":false,"zero":false},"axis":null},"y2":{"field":"h"},
 "color":{"condition":{"test":"indexof([25,48,49,50,51,52,53,54,55,56,57,83,85,88,91,94,97,102,231,232],datum.i)>=0","value":"#ff0000"},"value":"#000000"}}},
{"data":{"name":"px"},"mark":{"type":"tick","orient":"horizontal","size":3,"thickness":1,"xOffset":1.5},
 "encoding":{"x":{"field":"i","type":"quantitative","scale":{"domain":[-1.093,418.03],"nice":false,"zero":false},"axis":null},
 "y":{"field":"c","type":"quantitative","scale":{"domain":[36.386,131.084],"nice":false,"zero":false},"axis":null},
 "color":{"condition":{"test":"indexof([25,48,49,50,51,52,53,54,55,56,57,83,85,88,91,94,97,102,231,232],datum.i)>=0","value":"#ff0000"},"value":"#000000"}}},
{"data":{"name":"ind"},"mark":{"type":"line","color":"#ff00ff","strokeWidth":3},
 "encoding":{"x":{"field":"i","type":"quantitative","scale":{"domain":[-1.093,418.03],"nice":false,"zero":false},"axis":null},
 "y":{"field":"ob","type":"quantitative","scale":{"domain":[36.386,131.084],"nice":false,"zero":false},"axis":null}}},
{"data":{"name":"ind"},"mark":{"type":"line","color":"#000000","strokeWidth":2.2},
 "encoding":{"x":{"field":"i","type":"quantitative","scale":{"domain":[-1.093,418.03],"nice":false,"zero":false},"axis":null},
 "y":{"field":"rs","type":"quantitative","scale":{"domain":[36.386,131.084],"nice":false,"zero":false},"axis":null}}},
{"data":{"name":"ind"},"mark":{"type":"line","color":"#0000ff","strokeWidth":3},
 "encoding":{"x":{"field":"i","type":"quantitative","scale":{"domain":[-1.093,418.03],"nice":false,"zero":false},"axis":null},
 "y":{"field":"cp","type":"quantitative","scale":{"domain":[36.386,131.084],"nice":false,"zero":false},"axis":null}}},
{"data":{"name":"box"},"mark":{"type":"rect","fill":"#ffffff"},
 "encoding":{"x":{"field":"i","type":"quantitative","scale":{"domain":[-1.093,418.03],"nice":false,"zero":false},"axis":null},"x2":{"field":"i2"},
 "y":{"field":"v","type":"quantitative","scale":{"domain":[36.386,131.084],"nice":false,"zero":false},"axis":null},"y2":{"field":"v2"}}},
{"data":{"name":"seg"},"transform":[{"filter":"datum.k=='purp'||datum.k=='ptr'||datum.k=='rthin'||datum.k=='boxk'"}],"mark":{"type":"rule","strokeWidth":1},
 "encoding":{"x":{"field":"i","type":"quantitative","scale":{"domain":[-1.093,418.03],"nice":false,"zero":false},"axis":null},"x2":{"field":"i2"},
 "y":{"field":"v","type":"quantitative","scale":{"domain":[36.386,131.084],"nice":false,"zero":false},"axis":null},"y2":{"field":"v2"},
 "color":{"field":"k","type":"nominal","scale":{"domain":["purp","ptr","rthin","boxk"],"range":["#800080","#000000","#ff0000","#000000"]},"legend":null}}},
{"data":{"name":"seg"},"transform":[{"filter":"datum.k=='dot'"}],"mark":{"type":"rule","strokeWidth":1,"strokeDash":[1,3],"color":"#808080"},
 "encoding":{"x":{"field":"i","type":"quantitative","scale":{"domain":[-1.093,418.03],"nice":false,"zero":false},"axis":null},"x2":{"field":"i2"},
 "y":{"field":"v","type":"quantitative","scale":{"domain":[36.386,131.084],"nice":false,"zero":false},"axis":null},"y2":{"field":"v2"}}},
{"data":{"name":"seg"},"transform":[{"filter":"datum.k=='gthin'||datum.k=='olive'"}],"mark":{"type":"rule","strokeWidth":1.5},
 "encoding":{"x":{"field":"i","type":"quantitative","scale":{"domain":[-1.093,418.03],"nice":false,"zero":false},"axis":null},"x2":{"field":"i2"},
 "y":{"field":"v","type":"quantitative","scale":{"domain":[36.386,131.084],"nice":false,"zero":false},"axis":null},"y2":{"field":"v2"},
 "color":{"field":"k","type":"nominal","scale":{"domain":["gthin","olive"],"range":["#008000","#808000"]},"legend":null}}},
{"data":{"name":"seg"},"transform":[{"filter":"datum.k=='rthick'||datum.k=='gthick'"}],"mark":{"type":"rule","strokeWidth":6},
 "encoding":{"x":{"field":"i","type":"quantitative","scale":{"domain":[-1.093,418.03],"nice":false,"zero":false},"axis":null},"x2":{"field":"i2"},
 "y":{"field":"v","type":"quantitative","scale":{"domain":[36.386,131.084],"nice":false,"zero":false},"axis":null},"y2":{"field":"v2"},
 "color":{"field":"k","type":"nominal","scale":{"domain":["rthick","gthick"],"range":["#ff0000","#008000"]},"legend":null}}},
{"data":{"name":"seg"},"transform":[{"filter":"datum.k=='rarrow'"}],"mark":{"type":"rule","strokeWidth":2.5,"color":"#ff0000"},
 "encoding":{"x":{"field":"i","type":"quantitative","scale":{"domain":[-1.093,418.03],"nice":false,"zero":false},"axis":null},"x2":{"field":"i2"},
 "y":{"field":"v","type":"quantitative","scale":{"domain":[36.386,131.084],"nice":false,"zero":false},"axis":null},"y2":{"field":"v2"}}},
{"data":{"name":"seg"},"transform":[{"filter":"datum.k=='ul'"}],"mark":{"type":"rule","strokeWidth":3,"color":"#008000"},
 "encoding":{"x":{"field":"i","type":"quantitative","scale":{"domain":[-1.093,418.03],"nice":false,"zero":false},"axis":null},"x2":{"field":"i2"},
 "y":{"field":"v","type":"quantitative","scale":{"domain":[36.386,131.084],"nice":false,"zero":false},"axis":null},"y2":{"field":"v2"}}},
{"data":{"name":"seg"},"transform":[{"filter":"datum.k=='boxm'"}],"mark":{"type":"rule","strokeWidth":4,"color":"#ff00ff"},
 "encoding":{"x":{"field":"i","type":"quantitative","scale":{"domain":[-1.093,418.03],"nice":false,"zero":false},"axis":null},"x2":{"field":"i2"},
 "y":{"field":"v","type":"quantitative","scale":{"domain":[36.386,131.084],"nice":false,"zero":false},"axis":null},"y2":{"field":"v2"}}},
{"data":{"name":"headsdn"},"mark":{"type":"point","shape":"triangle-down","filled":true,"fill":"#ff0000","stroke":"#ff0000","size":30,"opacity":1,"fillOpacity":1},
 "encoding":{"x":{"field":"i","type":"quantitative","scale":{"domain":[-1.093,418.03],"nice":false,"zero":false},"axis":null},
 "y":{"field":"v","type":"quantitative","scale":{"domain":[36.386,131.084],"nice":false,"zero":false},"axis":null}}},
{"data":{"name":"headsup"},"mark":{"type":"point","shape":"triangle-up","filled":true,"fill":"#ff0000","stroke":"#ff0000","size":30,"opacity":1,"fillOpacity":1},
 "encoding":{"x":{"field":"i","type":"quantitative","scale":{"domain":[-1.093,418.03],"nice":false,"zero":false},"axis":null},
 "y":{"field":"v","type":"quantitative","scale":{"domain":[36.386,131.084],"nice":false,"zero":false},"axis":null}}},
{"data":{"name":"ghead"},"mark":{"type":"point","filled":false,"shape":"M-1,1L0,-1L1,1","stroke":"#008000","strokeWidth":1.5,"size":60,"angle":32,"opacity":1},
 "encoding":{"x":{"field":"i","type":"quantitative","scale":{"domain":[-1.093,418.03],"nice":false,"zero":false},"axis":null},
 "y":{"field":"v","type":"quantitative","scale":{"domain":[36.386,131.084],"nice":false,"zero":false},"axis":null}}},
{"data":{"name":"title"},"mark":{"type":"text","align":"left","baseline":"middle","font":"Liberation Sans","fontSize":10.5,"fontWeight":"bold","color":"#000000"},
 "encoding":{"x":{"field":"i","type":"quantitative","scale":{"domain":[-1.093,418.03],"nice":false,"zero":false},"axis":null},
 "y":{"field":"v","type":"quantitative","scale":{"domain":[36.386,131.084],"nice":false,"zero":false},"axis":null},"text":{"field":"t"}}},
{"data":{"name":"date"},"mark":{"type":"text","align":"left","baseline":"middle","font":"Liberation Sans","fontSize":13,"fontWeight":"bold","color":"#000000"},
 "encoding":{"x":{"field":"i","type":"quantitative","scale":{"domain":[-1.093,418.03],"nice":false,"zero":false},"axis":null},
 "y":{"field":"v","type":"quantitative","scale":{"domain":[36.386,131.084],"nice":false,"zero":false},"axis":null},"text":{"field":"t"}}},
{"data":{"name":"txt"},"mark":{"type":"text","align":"left","baseline":"middle","font":"Liberation Sans","fontSize":12,"fontWeight":"bold","color":"#000000"},
 "encoding":{"x":{"field":"i","type":"quantitative","scale":{"domain":[-1.093,418.03],"nice":false,"zero":false},"axis":null},
 "y":{"field":"v","type":"quantitative","scale":{"domain":[36.386,131.084],"nice":false,"zero":false},"axis":null},"text":{"field":"t"}}},
{"data":{"name":"months"},"mark":{"type":"text","align":"center","baseline":"middle","font":"Liberation Sans","fontSize":12,"fontWeight":"bold","color":"#000000"},
 "encoding":{"x":{"field":"i","type":"quantitative","scale":{"domain":[-1.093,418.03],"nice":false,"zero":false},"axis":null},
 "y":{"datum":37.83,"type":"quantitative","scale":{"domain":[36.386,131.084],"nice":false,"zero":false},"axis":null},"text":{"field":"t"}}},
{"data":{"name":"jaws"},"mark":{"type":"text","align":"left","baseline":"middle","font":"Liberation Sans","fontSize":17,"color":"#000000"},
 "encoding":{"x":{"field":"i","type":"quantitative","scale":{"domain":[-1.093,418.03],"nice":false,"zero":false},"axis":null},
 "y":{"field":"v","type":"quantitative","scale":{"domain":[36.386,131.084],"nice":false,"zero":false},"axis":null},"text":{"field":"t"}}}
]
}
